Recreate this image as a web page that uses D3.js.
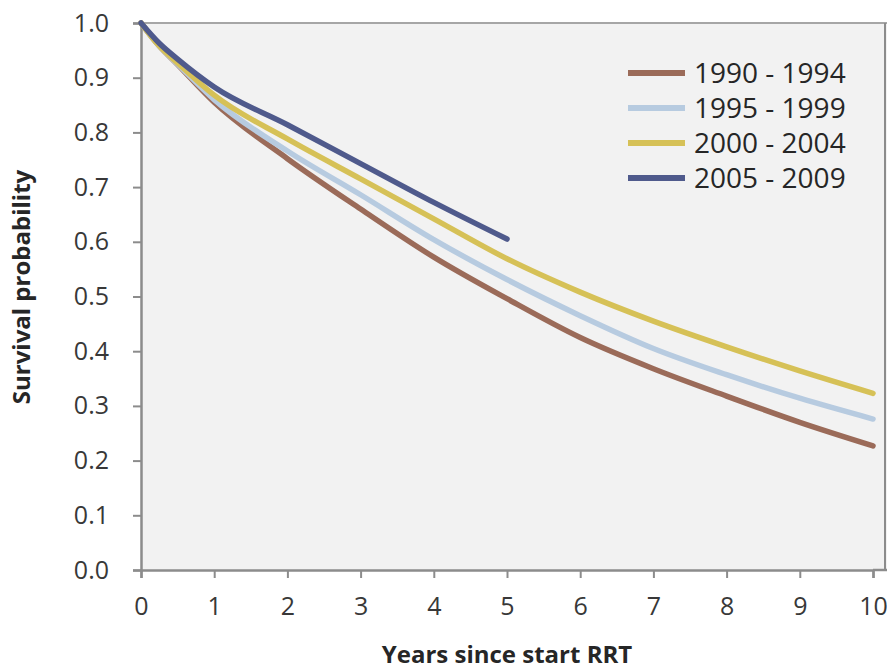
<!DOCTYPE html>
<html>
<head>
<meta charset="utf-8">
<script src="https://cdn.jsdelivr.net/npm/d3@7/dist/d3.min.js"></script>
<style>
  html, body { margin: 0; padding: 0; background: #ffffff; }
  svg { display: block; }
</style>
</head>
<body>
<script>
// ---- data ----
const years = [0, 0.25, 0.5, 1, 2, 3, 4, 5, 6, 7, 8, 9, 10];
const seriesNames = ["1990 - 1994", "1995 - 1999", "2000 - 2004", "2005 - 2009"];
const s1990 = [1.0, 0.958, 0.924, 0.855, 0.752, 0.660, 0.572, 0.496, 0.425, 0.368, 0.318, 0.270, 0.227];
const s1995 = [1.0, 0.958, 0.925, 0.860, 0.766, 0.686, 0.604, 0.531, 0.465, 0.405, 0.357, 0.314, 0.276];
const s2000 = [1.0, 0.958, 0.927, 0.868, 0.788, 0.715, 0.642, 0.569, 0.508, 0.455, 0.408, 0.364, 0.323];
const s2005 = [1.0, 0.963, 0.934, 0.883, 0.814, 0.743, 0.672, 0.605];
const seriesColors = ["#9b6b59", "#b7cbe0", "#d6c157", "#4f5a8c"];
const xTicks = [0, 1, 2, 3, 4, 5, 6, 7, 8, 9, 10];
const yTicks = [0, 0.1, 0.2, 0.3, 0.4, 0.5, 0.6, 0.7, 0.8, 0.9, 1.0];
const xTitle = "Years since start RRT";
const yTitle = "Survival probability";

const allSeries = [s1990, s1995, s2000, s2005];

const W = 887, H = 670;
const svg = d3.select("body").append("svg").attr("width", W).attr("height", H);

const x = d3.scaleLinear().domain([0, 10]).range([141, 873]);
const y = d3.scaleLinear().domain([0, 1]).range([570, 23]);

// plot background
svg.append("rect")
  .attr("x", 141).attr("y", 23)
  .attr("width", W - 141).attr("height", 570 - 23)
  .attr("fill", "#f2f2f2");

// top & right border
svg.append("line").attr("x1", 141).attr("x2", W).attr("y1", 23).attr("y2", 23)
  .attr("stroke", "#a6a6a6").attr("stroke-width", 2);
svg.append("line").attr("x1", 885).attr("x2", 885).attr("y1", 23).attr("y2", 570)
  .attr("stroke", "#8c8c8c").attr("stroke-width", 2);

const font = "'Open Sans', 'Noto Sans', sans-serif";

// axes
const yAxis = svg.append("g").attr("transform", "translate(141,0)")
  .call(d3.axisLeft(y).tickValues(yTicks).tickFormat(d3.format(".1f")).tickSize(8).tickPadding(24));
const xAxis = svg.append("g").attr("transform", "translate(0,570)")
  .call(d3.axisBottom(x).tickValues(xTicks).tickFormat(d3.format("d")).tickSize(8).tickPadding(19));

[yAxis, xAxis].forEach(g => {
  g.select(".domain").attr("stroke", "#8c8c8c").attr("stroke-width", 2.5);
  g.selectAll(".tick line").attr("stroke", "#8c8c8c").attr("stroke-width", 2);
  g.selectAll(".tick text").attr("fill", "#383838")
    .style("font-family", font).style("font-size", "25px");
});
// extend x axis line to the right edge
svg.append("line").attr("x1", 873).attr("x2", W).attr("y1", 570).attr("y2", 570)
  .attr("stroke", "#8c8c8c").attr("stroke-width", 2.5);

// lines
const line = d3.line()
  .x((d, i) => x(years[i]))
  .y(d => y(d))
  .curve(d3.curveMonotoneX);

allSeries.forEach((s, k) => {
  svg.append("path")
    .datum(s)
    .attr("d", line)
    .attr("fill", "none")
    .attr("stroke", seriesColors[k])
    .attr("stroke-width", 5.5)
    .attr("stroke-linecap", "round")
    .attr("stroke-linejoin", "round");
});

// legend
const leg = svg.append("g");
seriesNames.forEach((name, k) => {
  const yy = 73 + k * 35;
  leg.append("line")
    .attr("x1", 628).attr("x2", 685).attr("y1", yy).attr("y2", yy)
    .attr("stroke", seriesColors[k]).attr("stroke-width", 6);
  leg.append("text")
    .attr("x", 694).attr("y", yy)
    .attr("dy", "0.35em")
    .attr("fill", "#262626")
    .style("font-family", font).style("font-size", "28px")
    .text(name);
});

// axis titles
svg.append("text")
  .attr("x", 507).attr("y", 655).attr("dy", "0.35em")
  .attr("text-anchor", "middle")
  .attr("fill", "#262626")
  .style("font-family", font).style("font-size", "24px").style("font-weight", "bold")
  .text(xTitle);

svg.append("text")
  .attr("transform", "translate(22,287) rotate(-90)")
  .attr("dy", "0.35em")
  .attr("text-anchor", "middle")
  .attr("fill", "#262626")
  .style("font-family", font).style("font-size", "24px").style("font-weight", "bold")
  .text(yTitle);
</script>
</body>
</html>
